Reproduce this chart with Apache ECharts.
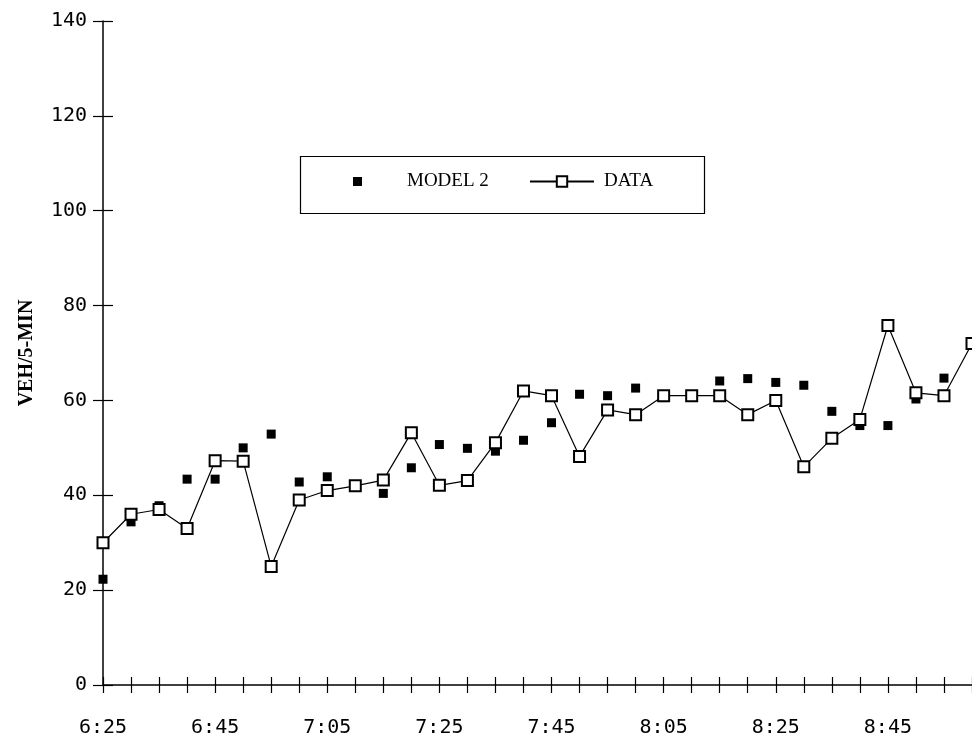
<!DOCTYPE html>
<html>
<head>
<meta charset="utf-8">
<script src="https://cdn.jsdelivr.net/npm/echarts@6/dist/echarts.min.js"></script>
<style>
  html, body { margin: 0; padding: 0; background: #fff; }
  #main { width: 972px; height: 738px; }
</style>
</head>
<body>
<div id="main"></div>
<script>
// 5-minute intervals, 6:25 .. 9:00 (the last one runs off the right edge)
const times = ['6:25', '6:30', '6:35', '6:40', '6:45', '6:50', '6:55', '7:00',
  '7:05', '7:10', '7:15', '7:20', '7:25', '7:30', '7:35', '7:40', '7:45', '7:50',
  '7:55', '8:00', '8:05', '8:10', '8:15', '8:20', '8:25', '8:30', '8:35', '8:40',
  '8:45', '8:50', '8:55', '9:00'];

const observed = [30, 36, 37, 33, 47.3, 47.2, 25, 39, 41, 42, 43.2, 53.2, 42.1, 43.1,
  51.1, 62, 61, 48.2, 58, 57, 61, 61, 61, 57, 60, 46, 52, 56, 75.8, 61.6, 61, 72];

const model2 = [22.3, 34.4, 37.8, 43.4, 43.4, 50, 52.9, 42.8, 43.9, 42, 40.4, 45.8,
  50.7, 49.9, 49.3, 51.6, 55.3, 61.3, 61, 62.6, 60.6, 60.8, 64.1, 64.6, 63.8, 63.2,
  57.7, 54.7, 54.7, 60.3, 64.7, null];

const yTicks = [0, 20, 40, 60, 80, 100, 120, 140];

const chart = echarts.init(document.getElementById('main'));

const monoLabel = {
  fontFamily: 'DejaVu Sans Mono',
  fontSize: 20,
  color: '#000'
};

// invisible axis line, only used by the helper axes that draw the inner half of the ticks
const hiddenLine = {show: true, lineStyle: {color: '#000', width: 1, opacity: 0}};

const option = {
  animation: false,
  backgroundColor: '#fff',
  grid: {
    left: 103,
    top: 21,
    width: 878,
    height: 667
  },
  // legend box frame
  graphic: [{
    type: 'rect',
    left: 298,
    top: 154,
    shape: {width: 404, height: 57},
    style: {fill: 'none', stroke: '#000', lineWidth: 1.2}
  }],
  legend: [
    {
      data: ['MODEL 2'],
      left: 353,
      top: 172,
      padding: 0,
      itemWidth: 9,
      itemHeight: 9,
      textStyle: {
        fontFamily: 'Liberation Serif',
        fontSize: 19,
        color: '#000',
        padding: [0, 0, 0, 40]
      }
    },
    {
      data: ['DATA'],
      left: 529,
      top: 172,
      padding: 0,
      itemWidth: 64,
      itemHeight: 13,
      textStyle: {
        fontFamily: 'Liberation Serif',
        fontSize: 19,
        color: '#000',
        padding: [0, 0, 0, 5]
      }
    }
  ],
  xAxis: [
    {
      type: 'category',
      data: times,
      boundaryGap: false,
      axisLine: {lineStyle: {color: '#000', width: 1.5}},
      axisTick: {show: true, interval: 0, length: 8, lineStyle: {color: '#000', width: 1.2}},
      axisLabel: Object.assign({interval: 3, margin: 33}, monoLabel),
      splitLine: {show: false}
    },
    {
      // helper axis: inner half of the crossing ticks
      type: 'category',
      data: times,
      position: 'bottom',
      offset: 0,
      boundaryGap: false,
      axisLine: hiddenLine,
      axisTick: {show: true, inside: true, interval: 0, length: 8, lineStyle: {color: '#000', width: 1.2}},
      axisLabel: {show: false},
      splitLine: {show: false}
    }
  ],
  yAxis: [
    {
      type: 'value',
      min: yTicks[0],
      max: yTicks[yTicks.length - 1],
      interval: 20,
      name: 'VEH/5-MIN',
      nameLocation: 'middle',
      nameGap: 66,
      nameTextStyle: {
        fontFamily: 'Liberation Serif',
        fontWeight: 'bold',
        fontSize: 20,
        color: '#000'
      },
      axisLine: {show: true, lineStyle: {color: '#000', width: 1.5}},
      axisTick: {show: true, length: 10, lineStyle: {color: '#000', width: 1.2}},
      axisLabel: Object.assign({margin: 16}, monoLabel),
      splitLine: {show: false}
    },
    {
      type: 'value',
      position: 'left',
      offset: 0,
      min: yTicks[0],
      max: yTicks[yTicks.length - 1],
      interval: 20,
      axisLine: hiddenLine,
      axisTick: {show: true, inside: true, length: 10, lineStyle: {color: '#000', width: 1.2}},
      axisLabel: {show: false},
      splitLine: {show: false}
    }
  ],
  series: [
    {
      name: 'MODEL 2',
      type: 'scatter',
      data: model2,
      symbol: 'rect',
      symbolSize: 9,
      itemStyle: {color: '#000', opacity: 1},
      z: 2
    },
    {
      name: 'DATA',
      type: 'line',
      data: observed,
      symbol: 'emptyRect',
      symbolSize: 11,
      showAllSymbol: true,
      lineStyle: {color: '#000', width: 1.2},
      itemStyle: {color: '#000', borderColor: '#000', borderWidth: 1.5},
      z: 3
    }
  ]
};

option && chart.setOption(option);
</script>
</body>
</html>
